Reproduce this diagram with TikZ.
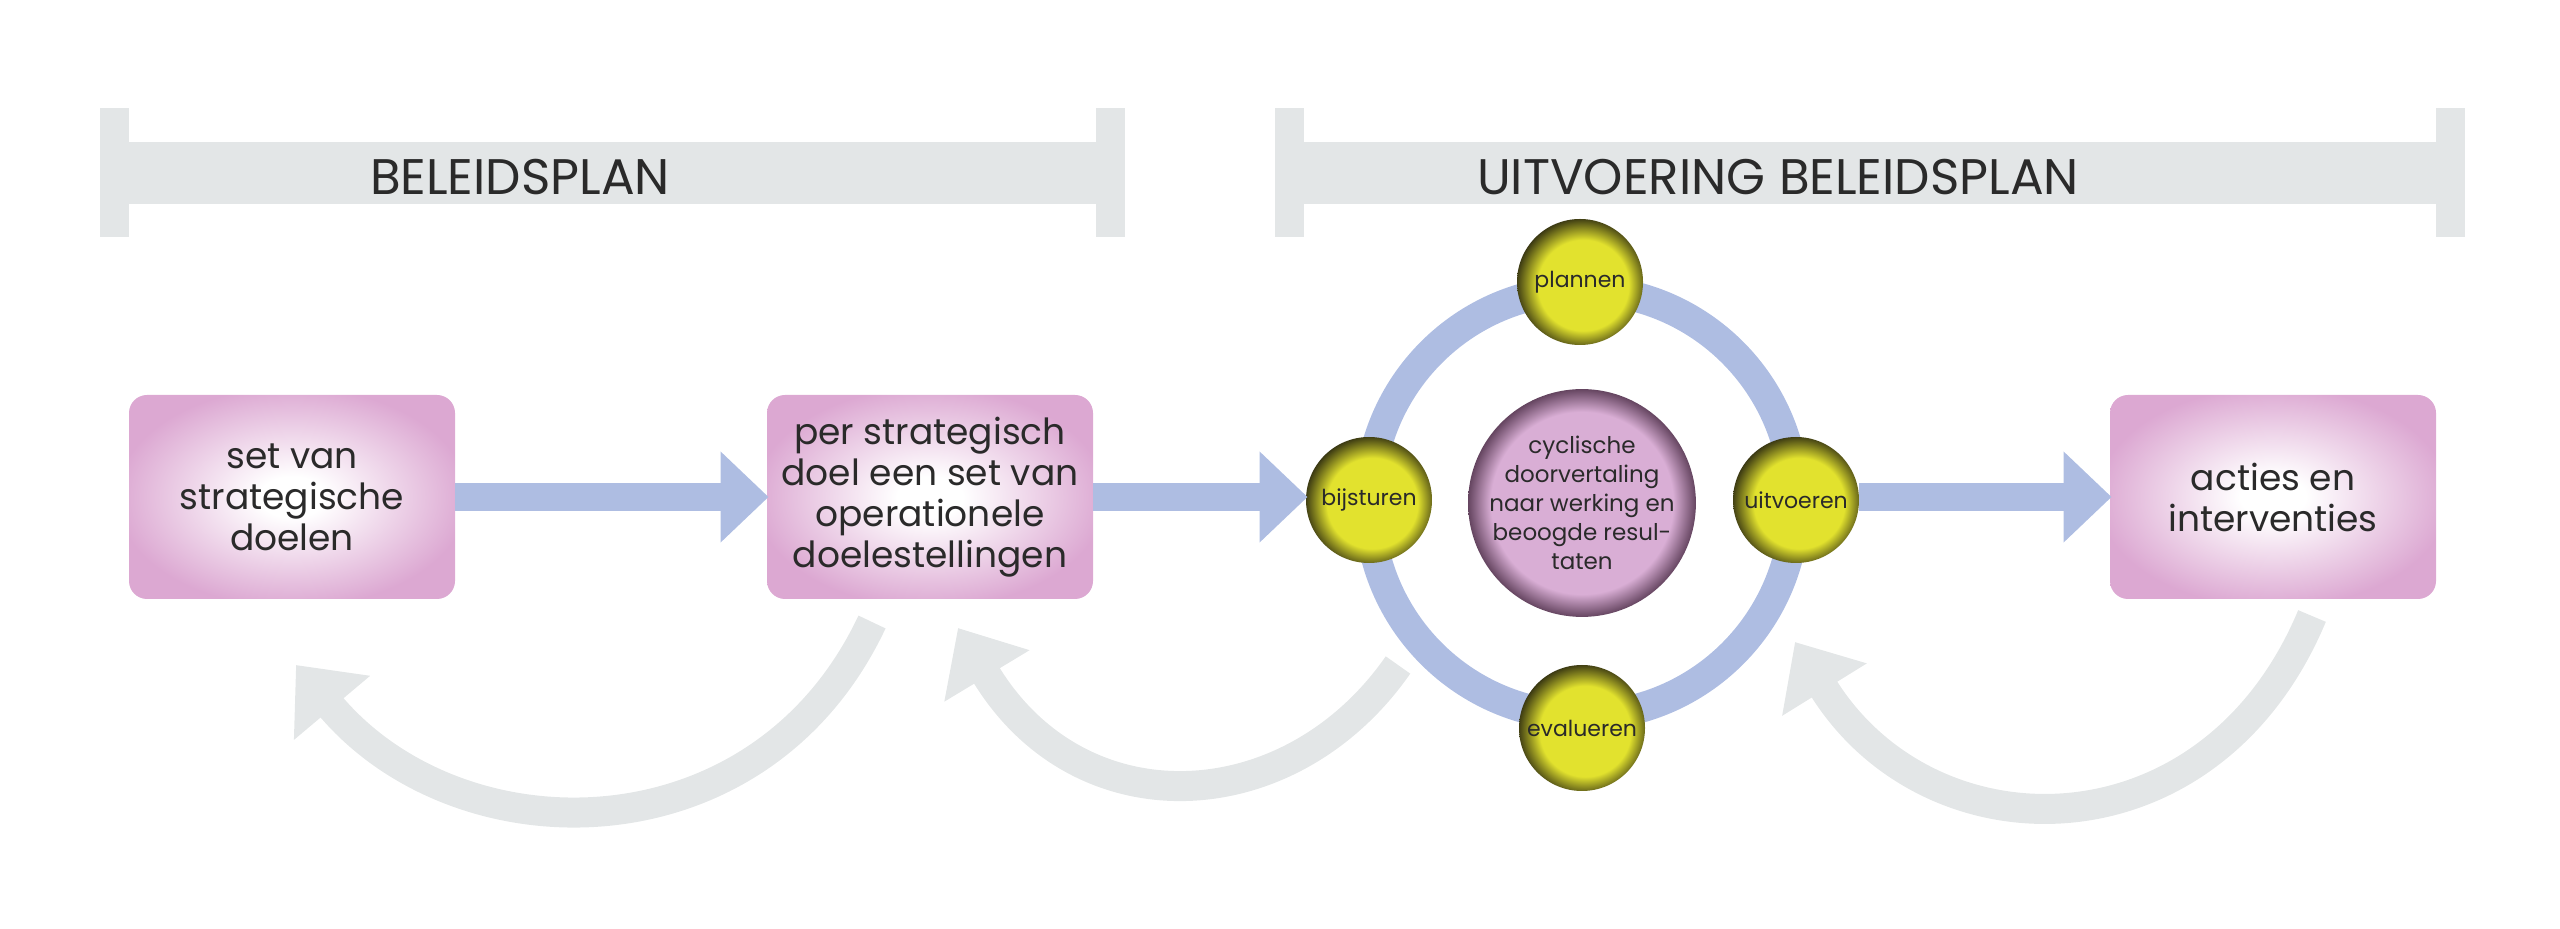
\documentclass[tikz,border=0pt]{standalone}
\usepackage{fontspec}
\setmainfont{Poppins}
\usetikzlibrary{arrows.meta}
\definecolor{barg}{HTML}{E3E6E7}
\definecolor{blu}{HTML}{AEBDE2}
\definecolor{pnk}{HTML}{DCA8D2}
\definecolor{yel}{HTML}{E2E22E}
\definecolor{yeld}{HTML}{2E2C10}
\definecolor{cpk}{HTML}{D9AED5}
\definecolor{cpkd}{HTML}{4E3049}
\definecolor{txt}{HTML}{2A2A2A}
\pgfdeclareradialshading{boxsh}{\pgfpoint{0bp}{0bp}}{color(0bp)=(white); color(5bp)=(white); color(27bp)=(pnk); color(50bp)=(pnk)}
\pgfdeclareradialshading{ysph}{\pgfpoint{2bp}{-2bp}}{color(0bp)=(yel); color(18bp)=(yel); color(27bp)=(yeld); color(50bp)=(yeld)}
\pgfdeclareradialshading{csph}{\pgfpoint{0bp}{0bp}}{color(0bp)=(cpk); color(20bp)=(cpk); color(26bp)=(cpkd); color(50bp)=(cpkd)}
\tikzset{
  pbox/.style={rounded corners=9pt, shading=boxsh, minimum width=163pt, minimum height=102pt, align=center, font=\fontsize{18}{20.5}\selectfont, text=txt, inner sep=0pt},
  ball/.style={circle, shading=ysph, minimum size=63pt, inner sep=0pt, font=\fontsize{11}{13}\selectfont, text=txt},
  cball/.style={circle, shading=csph, minimum size=100pt, inner sep=0pt, align=center, font=\fontsize{11.5}{14.5}\selectfont, text=txt},
  barr/.style={draw=blu, line width=14pt, -{Triangle[length=24pt,width=44pt]}, shorten >=-1pt},
  garr/.style={draw=barg, line width=15pt, -{Triangle[length=28pt,width=48pt]}},
  ttl/.style={font=\fontsize{25}{27}\selectfont, text=txt, anchor=base}
}
\begin{document}
\begin{tikzpicture}[x=0.5pt,y=-0.5pt]
\useasboundingbox (0,0) rectangle (2560,929);
% brackets
\fill[barg] (100,108) rectangle (129,237);
\fill[barg] (1096,108) rectangle (1125,237);
\fill[barg] (129,142) rectangle (1096,204);
\fill[barg] (1275,108) rectangle (1304,237);
\fill[barg] (2436,108) rectangle (2465,237);
\fill[barg] (1304,142) rectangle (2436,204);
\node[ttl] (t1) at (520,195) {BELEIDSPLAN};
\node[ttl] (t2) at (1778,195) {UITVOERING BELEIDSPLAN};
% ring
\draw[blu, line width=15pt] (1582,503) circle [radius=213];
% boxes
\node[pbox] (b1) at (292,497) {set van\\strategische\\doelen};
\node[pbox] (b2) at (930,497) {per strategisch\\doel een set van\\operationele\\doelestellingen};
\node[pbox] (b3) at (2273,497) {acties en\\interventies};
% balls
\node[ball] (pl) at (1580,282) {plannen};
\node[ball] (bi) at (1369,500) {bijsturen};
\node[ball] (ui) at (1796,500) {uitvoeren};
\node[ball] (ev) at (1582,728) {evalueren};
\node[cball] (c) at (1582,503) {cyclische\\doorvertaling\\naar werking en\\beoogde resul-\\taten};
% blue arrows
\draw[barr] (b1.east) -- (b2.west);
\draw[barr] (b2.east) -- (b2.east -| bi.west);
\draw[barr] (b3.west -| ui.east) -- (b3.west);
% gray return arrows
\coordinate (g1s) at (872,622);
\coordinate (g1e) at (296,665);
\draw[garr] (g1s) .. controls (760,860) and (460,860) .. (g1e);
\coordinate (g2s) at (1398,665);
\coordinate (g2e) at (958,628);
\draw[garr] (g2s) .. controls (1290,820) and (1080,830) .. (g2e);
\coordinate (g3s) at (2312,616);
\coordinate (g3e) at (1795,642);
\draw[garr] (g3s) .. controls (2210,860) and (1930,860) .. (g3e);
\end{tikzpicture}
\end{document}
